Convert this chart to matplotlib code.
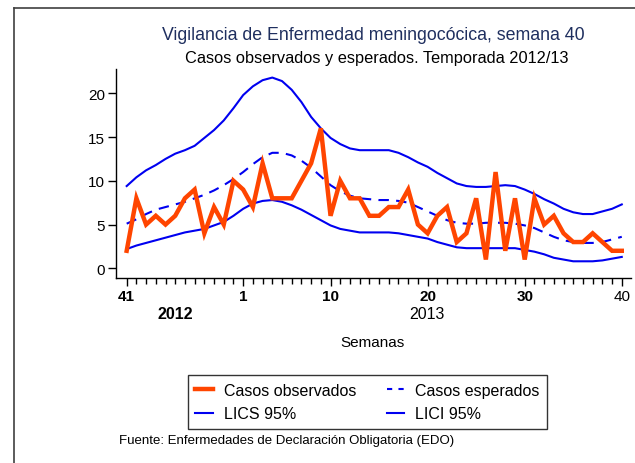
import matplotlib
matplotlib.use("Agg")
import matplotlib.pyplot as plt
import matplotlib.transforms as mtransforms
from matplotlib.lines import Line2D

plt.rcParams['font.family'] = ['Liberation Sans', 'DejaVu Sans']

weeks = list(range(41, 53)) + list(range(1, 41))
observados = [2, 8, 5, 6, 5, 6, 8, 9, 4, 7, 5, 10, 9, 7, 12, 8, 8, 8, 10, 12,
              16, 6, 10, 8, 8, 6, 6, 7, 7, 9, 5, 4, 6, 7, 3, 4, 8, 1, 11, 2,
              8, 1, 8, 5, 6, 4, 3, 3, 4, 3, 2, 2]
esperados = [5.1, 5.6, 6.2, 6.7, 7.0, 7.3, 7.6, 8.0, 8.4, 8.9, 9.5, 10.2, 11.0,
             11.9, 12.7, 13.2, 13.2, 12.9, 12.3, 11.5, 10.5, 9.5, 8.8, 8.3, 8.0,
             7.9, 7.8, 7.8, 7.7, 7.5, 7.0, 6.5, 6.0, 5.5, 5.2, 5.1, 5.1, 5.2,
             5.2, 5.2, 5.1, 4.9, 4.6, 4.1, 3.6, 3.2, 3.0, 2.9, 2.9, 3.0, 3.3, 3.6]
lics = [9.4, 10.4, 11.2, 11.8, 12.5, 13.1, 13.5, 14.0, 14.9, 15.8, 16.9, 18.3,
        19.8, 20.8, 21.5, 21.8, 21.4, 20.4, 19.0, 17.3, 16.0, 14.9, 14.2, 13.7,
        13.5, 13.5, 13.5, 13.5, 13.2, 12.7, 12.1, 11.6, 10.9, 10.3, 9.7, 9.4,
        9.3, 9.3, 9.4, 9.5, 9.4, 9.0, 8.5, 7.9, 7.4, 6.8, 6.4, 6.2, 6.2, 6.5,
        6.8, 7.3]
lici = [2.2, 2.6, 2.9, 3.2, 3.5, 3.8, 4.1, 4.3, 4.5, 4.9, 5.3, 6.0, 6.8, 7.4,
        7.7, 7.8, 7.6, 7.2, 6.7, 6.1, 5.5, 4.9, 4.5, 4.3, 4.1, 4.1, 4.1, 4.1,
        4.0, 3.8, 3.6, 3.4, 3.0, 2.7, 2.4, 2.3, 2.3, 2.3, 2.3, 2.3, 2.3, 2.1,
        1.9, 1.6, 1.2, 1.0, 0.8, 0.8, 0.8, 0.9, 1.1, 1.3]
major_weeks = [41, 1, 10, 20, 30, 40]
year_labels = ["2012", "2013"]
yticks = [0, 5, 10, 15, 20]

x = list(range(len(weeks)))
orange = '#FF4500'
blue = '#0000F0'

fig = plt.figure(figsize=(6.35, 4.64), dpi=100)
ax = fig.add_axes([116/635, 1-279/464, (631-116)/635, (279-70)/464])

ax.plot(x, lics, color=blue, lw=1.5)
ax.plot(x, lici, color=blue, lw=1.5)
ax.plot(x, esperados, color=blue, lw=1.5, dashes=(5, 3.5))
ax.plot(x, observados, color=orange, lw=3.2, solid_joinstyle='miter')

ax.set_xlim(-1.1, 51.95)
ax.set_ylim(-1.11, 22.78)

for s in ['top', 'right']:
    ax.spines[s].set_visible(False)
for s in ['left', 'bottom']:
    ax.spines[s].set_linewidth(1.0)

ax.set_yticks(yticks)
ax.set_yticklabels([str(v) for v in yticks], fontsize=11)
ax.tick_params(axis='y', direction='out', length=6, width=1, pad=2)

major_idx = [weeks.index(w) if w != 41 else 0 for w in major_weeks]
ax.set_xticks(major_idx)
ax.set_xticklabels([str(w) for w in major_weeks], fontsize=11)
for i, lab in enumerate(ax.get_xticklabels()):
    lab.set_fontweight('bold' if i < len(major_weeks) - 1 else 'normal')
ax.set_xticks(x, minor=True)
ax.tick_params(axis='x', which='major', direction='out', length=6, width=1, pad=2)
ax.tick_params(axis='x', which='minor', direction='out', length=4, width=1)

trans = mtransforms.blended_transform_factory(ax.transData, fig.transFigure)
ax.text(5.0, 1-314.5/464, year_labels[0], transform=trans, ha='center', va='center',
        fontsize=11.5, fontweight='bold')
ax.text(30.9, 1-314.5/464, year_labels[1], transform=trans, ha='center', va='center',
        fontsize=11.5)

fig.text(373/635, 1-35/464, "Vigilancia de Enfermedad meningocócica, semana 40",
         ha='center', va='center', fontsize=12.8, color='#1F2F5F')
fig.text(377/635, 1-58/464, "Casos observados y esperados. Temporada 2012/13",
         ha='center', va='center', fontsize=11.8)
fig.text(372/635, 1-343/464, "Semanas", ha='center', va='center', fontsize=11)
fig.text(119/635, 1-441/464, "Fuente: Enfermedades de Declaración Obligatoria (EDO)",
         ha='left', va='center', fontsize=9.5)

handles = [Line2D([], [], color=orange, lw=3.2),
           Line2D([], [], color=blue, lw=1.5),
           Line2D([], [], color=blue, lw=1.5, dashes=(2.5, 3)),
           Line2D([], [], color=blue, lw=1.5)]
labels = ["Casos observados", "LICS 95%", "Casos esperados", "LICI 95%"]
leg = fig.legend(handles, labels, ncol=2, loc='center',
                 bbox_to_anchor=((191+544)/2/635, 1-(377+429)/2/464),
                 fontsize=11.5, frameon=True, fancybox=False, edgecolor='black',
                 handlelength=1.1, handletextpad=0.7, columnspacing=1.9,
                 labelspacing=0.55, borderpad=0.45)
leg.get_frame().set_linewidth(1.0)

# outer frame lines (top and left)
fig.add_artist(Line2D([14/635, 1], [1-8.5/464, 1-8.5/464], transform=fig.transFigure,
                      color='#404040', lw=1.2))
fig.add_artist(Line2D([14/635, 14/635], [0, 1-8.5/464], transform=fig.transFigure,
                      color='#404040', lw=1.2))

fig.savefig("out.png", dpi=100)
